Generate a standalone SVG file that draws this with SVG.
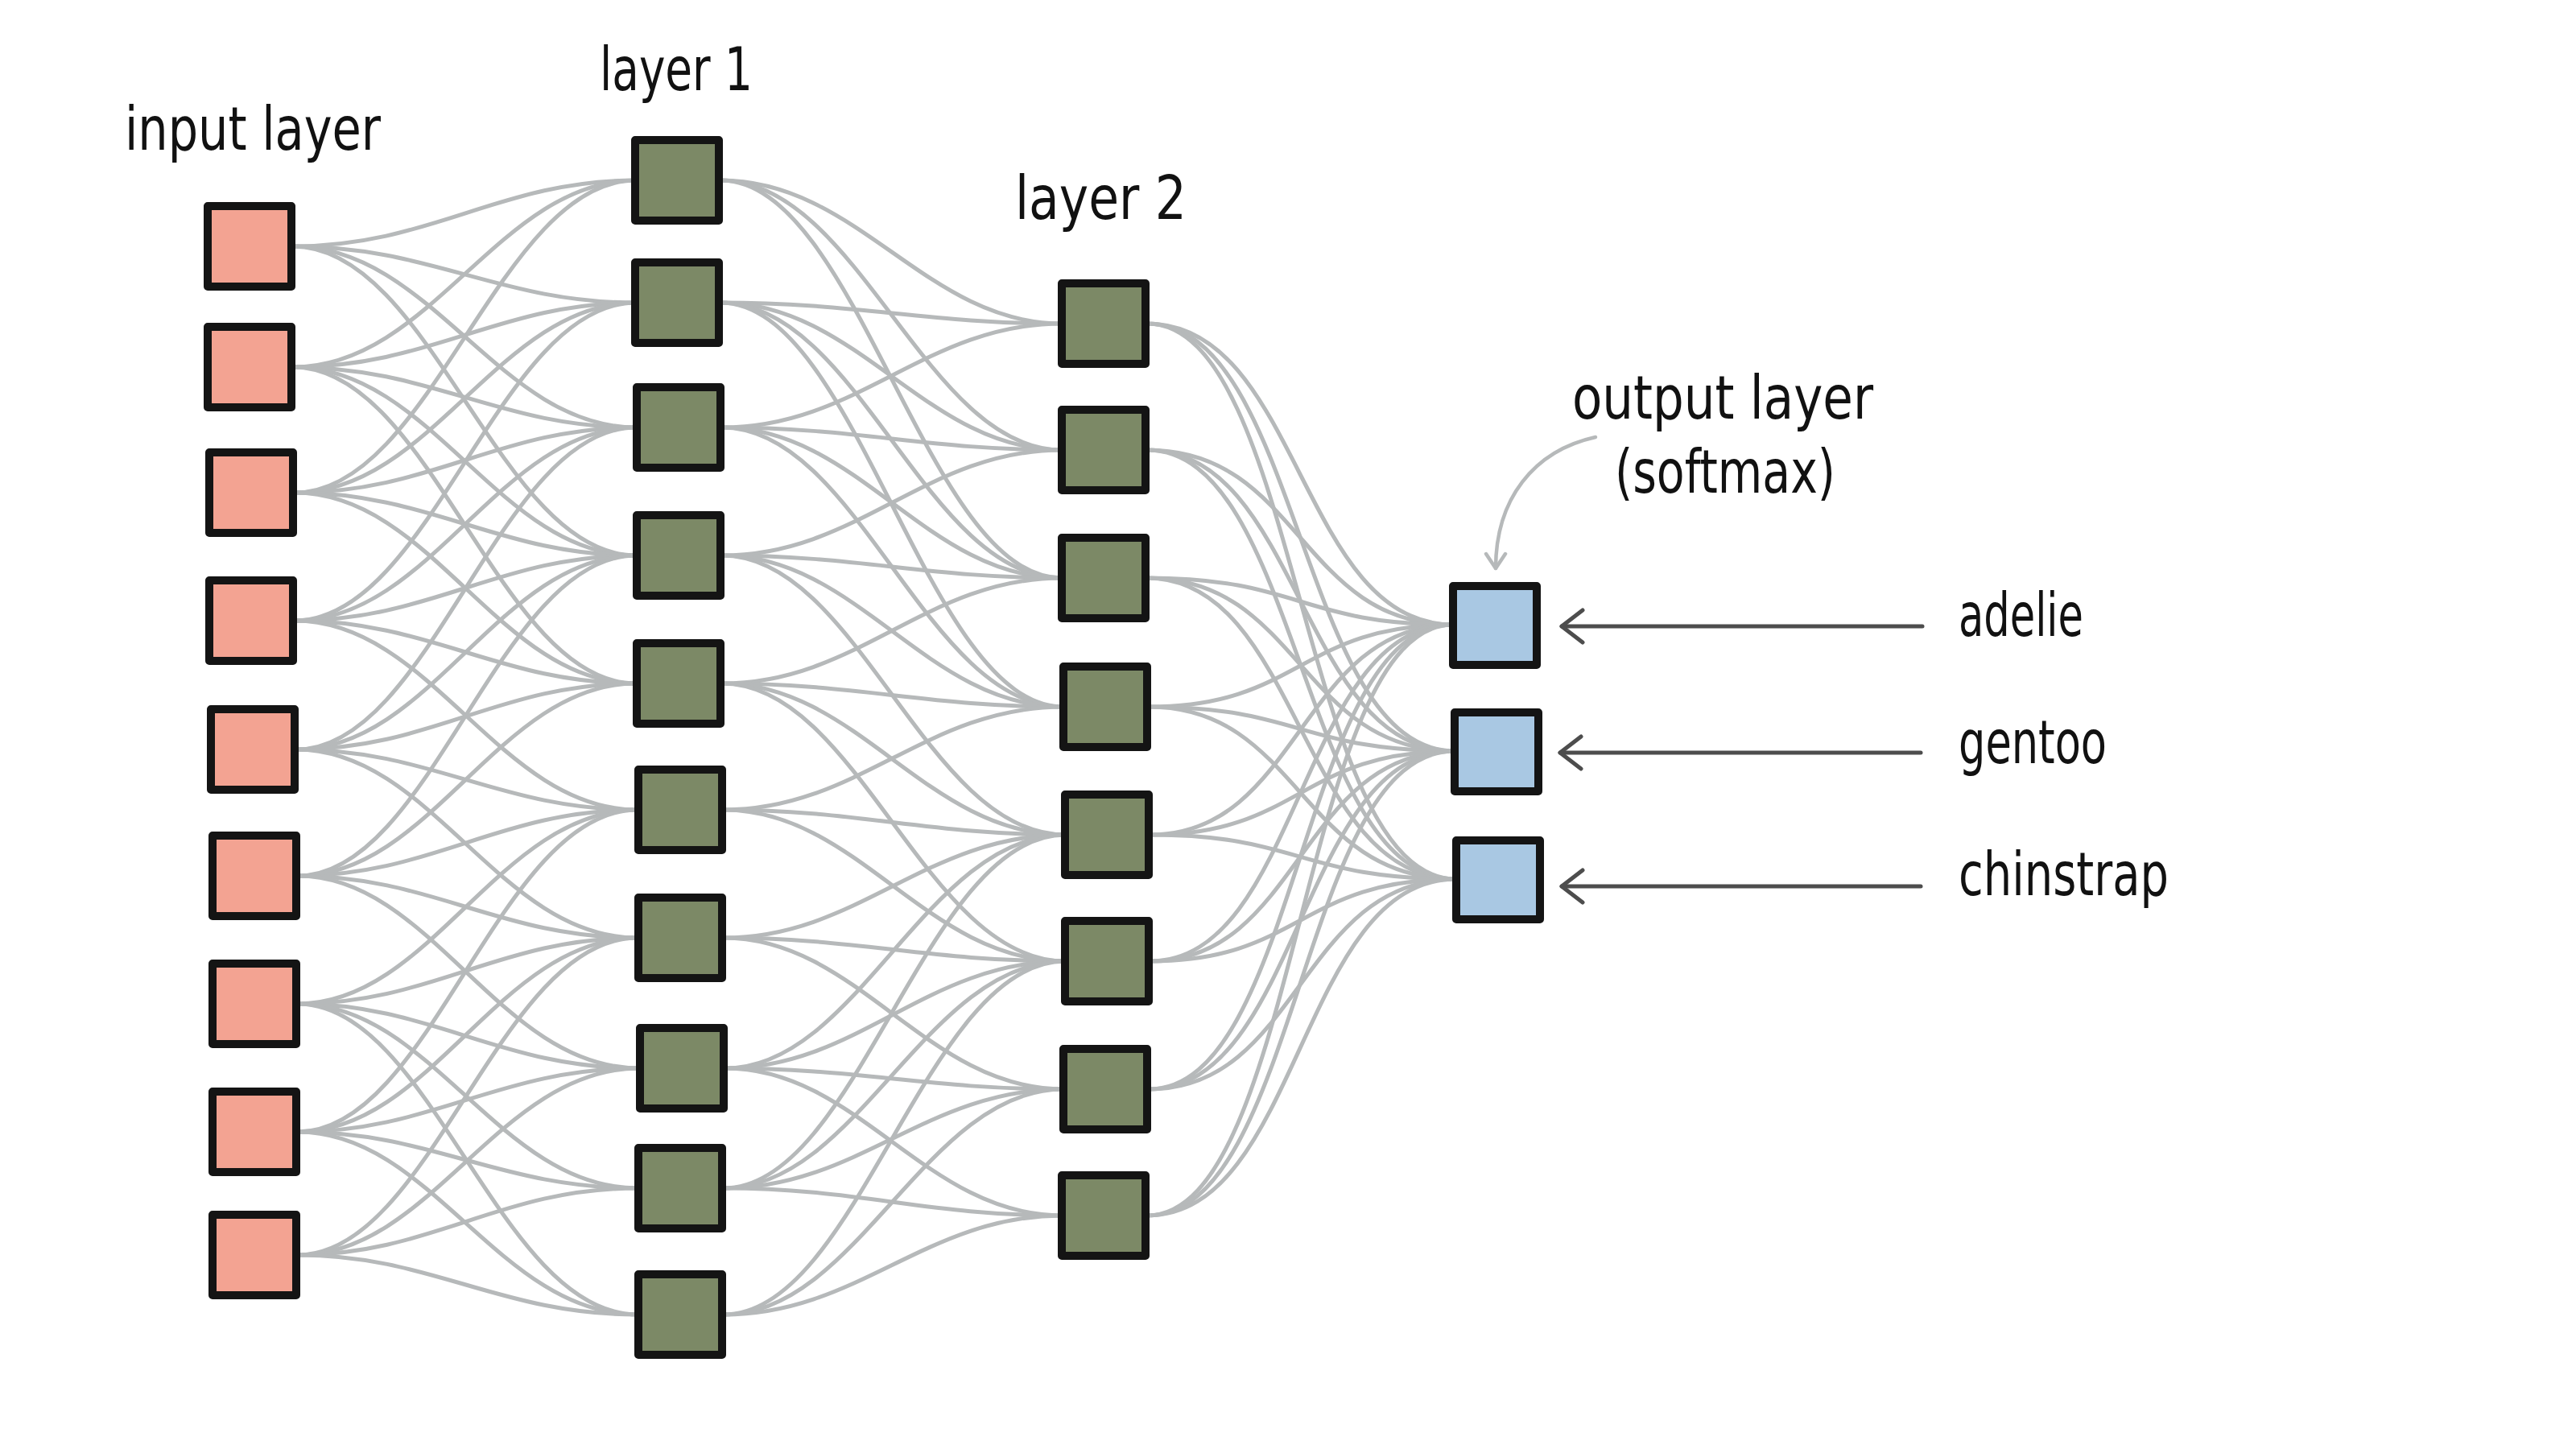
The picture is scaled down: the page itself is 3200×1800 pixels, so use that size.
<svg xmlns="http://www.w3.org/2000/svg" width="3200" height="1800" viewBox="0 0 3200 1800">
<defs>
<style>
.bg{fill:#ffffff}
.node{stroke:#141414;stroke-width:10;stroke-linejoin:round}
.in{fill:#f3a392}
.hid{fill:#7c8966}
.out{fill:#a9c8e3}
.edge{fill:none;stroke:#b6b9ba;stroke-width:5;stroke-linecap:round}
.lbl{font-family:"Liberation Sans Narrow","DejaVu Sans Condensed","Liberation Sans",sans-serif;font-size:74px;fill:#111111}
.arr{fill:none;stroke:#4d4d4d;stroke-width:5;stroke-linecap:round}
.note{fill:none;stroke:#b6b9ba;stroke-width:4.5;stroke-linecap:round}
</style>
<marker id="chev" viewBox="0 0 32 46" refX="29" refY="23" markerWidth="32" markerHeight="46" markerUnits="userSpaceOnUse" orient="auto">
<path d="M3 3 L29 23 L3 43" fill="none" stroke="#4d4d4d" stroke-width="5" stroke-linecap="round" stroke-linejoin="round"/>
</marker>
<marker id="chevs" viewBox="0 0 24 30" refX="21" refY="15" markerWidth="24" markerHeight="30" markerUnits="userSpaceOnUse" orient="auto">
<path d="M3 3 L21 15 L3 27" fill="none" stroke="#b6b9ba" stroke-width="4.5" stroke-linecap="round" stroke-linejoin="round"/>
</marker>
</defs>
<rect class="bg" x="0" y="0" width="3200" height="1800"/>

<g id="connectors">
<!-- input -> layer 1 -->
<path class="edge" d="M364 306C536 306 620 224 790 224"/>
<path class="edge" d="M364 306C536 306 620 376 790 376"/>
<path class="edge" d="M364 306C536 306 620 531 790 531"/>
<path class="edge" d="M364 306C536 306 620 690 790 690"/>
<path class="edge" d="M364 456C536 456 620 224 790 224"/>
<path class="edge" d="M364 456C536 456 620 376 790 376"/>
<path class="edge" d="M364 456C536 456 620 531 790 531"/>
<path class="edge" d="M364 456C536 456 620 690 790 690"/>
<path class="edge" d="M364 456C536 456 620 849 790 849"/>
<path class="edge" d="M366 612C536 612 620 224 790 224"/>
<path class="edge" d="M366 612C536 612 620 376 790 376"/>
<path class="edge" d="M366 612C536 612 620 531 790 531"/>
<path class="edge" d="M366 612C536 612 620 690 790 690"/>
<path class="edge" d="M366 612C536 612 620 849 790 849"/>
<path class="edge" d="M366 771C536 771 620 376 790 376"/>
<path class="edge" d="M366 771C536 771 620 531 790 531"/>
<path class="edge" d="M366 771C536 771 620 690 790 690"/>
<path class="edge" d="M366 771C536 771 620 849 790 849"/>
<path class="edge" d="M366 771C536 771 620 1006 792 1006"/>
<path class="edge" d="M368 931C536 931 620 531 790 531"/>
<path class="edge" d="M368 931C536 931 620 690 790 690"/>
<path class="edge" d="M368 931C536 931 620 849 790 849"/>
<path class="edge" d="M368 931C536 931 620 1006 792 1006"/>
<path class="edge" d="M368 931C536 931 620 1165 792 1165"/>
<path class="edge" d="M370 1088C536 1088 620 690 790 690"/>
<path class="edge" d="M370 1088C536 1088 620 849 790 849"/>
<path class="edge" d="M370 1088C536 1088 620 1006 792 1006"/>
<path class="edge" d="M370 1088C536 1088 620 1165 792 1165"/>
<path class="edge" d="M370 1088C536 1088 620 1327 794 1327"/>
<path class="edge" d="M370 1247C536 1247 620 1006 792 1006"/>
<path class="edge" d="M370 1247C536 1247 620 1165 792 1165"/>
<path class="edge" d="M370 1247C536 1247 620 1327 794 1327"/>
<path class="edge" d="M370 1247C536 1247 620 1476 792 1476"/>
<path class="edge" d="M370 1247C536 1247 620 1633 792 1633"/>
<path class="edge" d="M370 1406C536 1406 620 1006 792 1006"/>
<path class="edge" d="M370 1406C536 1406 620 1165 792 1165"/>
<path class="edge" d="M370 1406C536 1406 620 1327 794 1327"/>
<path class="edge" d="M370 1406C536 1406 620 1476 792 1476"/>
<path class="edge" d="M370 1406C536 1406 620 1633 792 1633"/>
<path class="edge" d="M370 1559C536 1559 620 1165 792 1165"/>
<path class="edge" d="M370 1559C536 1559 620 1327 794 1327"/>
<path class="edge" d="M370 1559C536 1559 620 1476 792 1476"/>
<path class="edge" d="M370 1559C536 1559 620 1633 792 1633"/>
<!-- layer 1 -> layer 2 -->
<path class="edge" d="M895 224C1066 224 1150 402 1319 402"/>
<path class="edge" d="M895 224C1066 224 1150 559 1319 559"/>
<path class="edge" d="M895 224C1066 224 1150 718 1319 718"/>
<path class="edge" d="M895 376C1066 376 1150 402 1319 402"/>
<path class="edge" d="M895 376C1066 376 1150 559 1319 559"/>
<path class="edge" d="M895 376C1066 376 1150 718 1319 718"/>
<path class="edge" d="M895 376C1066 376 1150 878 1321 878"/>
<path class="edge" d="M897 531C1066 531 1150 402 1319 402"/>
<path class="edge" d="M897 531C1066 531 1150 559 1319 559"/>
<path class="edge" d="M897 531C1066 531 1150 718 1319 718"/>
<path class="edge" d="M897 531C1066 531 1150 878 1321 878"/>
<path class="edge" d="M897 690C1066 690 1150 559 1319 559"/>
<path class="edge" d="M897 690C1066 690 1150 718 1319 718"/>
<path class="edge" d="M897 690C1066 690 1150 878 1321 878"/>
<path class="edge" d="M897 690C1066 690 1150 1037 1323 1037"/>
<path class="edge" d="M897 849C1066 849 1150 718 1319 718"/>
<path class="edge" d="M897 849C1066 849 1150 878 1321 878"/>
<path class="edge" d="M897 849C1066 849 1150 1037 1323 1037"/>
<path class="edge" d="M897 849C1066 849 1150 1194 1323 1194"/>
<path class="edge" d="M899 1006C1066 1006 1150 878 1321 878"/>
<path class="edge" d="M899 1006C1066 1006 1150 1037 1323 1037"/>
<path class="edge" d="M899 1006C1066 1006 1150 1194 1323 1194"/>
<path class="edge" d="M899 1165C1066 1165 1150 1037 1323 1037"/>
<path class="edge" d="M899 1165C1066 1165 1150 1194 1323 1194"/>
<path class="edge" d="M899 1165C1066 1165 1150 1353 1321 1353"/>
<path class="edge" d="M901 1327C1066 1327 1150 1037 1323 1037"/>
<path class="edge" d="M901 1327C1066 1327 1150 1194 1323 1194"/>
<path class="edge" d="M901 1327C1066 1327 1150 1353 1321 1353"/>
<path class="edge" d="M901 1327C1066 1327 1150 1510 1319 1510"/>
<path class="edge" d="M899 1476C1066 1476 1150 1037 1323 1037"/>
<path class="edge" d="M899 1476C1066 1476 1150 1194 1323 1194"/>
<path class="edge" d="M899 1476C1066 1476 1150 1353 1321 1353"/>
<path class="edge" d="M899 1476C1066 1476 1150 1510 1319 1510"/>
<path class="edge" d="M899 1633C1066 1633 1150 1194 1323 1194"/>
<path class="edge" d="M899 1633C1066 1633 1150 1353 1321 1353"/>
<path class="edge" d="M899 1633C1066 1633 1150 1510 1319 1510"/>
<!-- layer 2 -> output -->
<path class="edge" d="M1425 402C1615 402 1615 776 1805 776"/>
<path class="edge" d="M1425 402C1615 402 1615 933 1807 933"/>
<path class="edge" d="M1425 402C1615 402 1615 1092 1809 1092"/>
<path class="edge" d="M1425 559C1615 559 1615 776 1805 776"/>
<path class="edge" d="M1425 559C1615 559 1615 933 1807 933"/>
<path class="edge" d="M1425 559C1615 559 1615 1092 1809 1092"/>
<path class="edge" d="M1425 718C1615 718 1615 776 1805 776"/>
<path class="edge" d="M1425 718C1615 718 1615 933 1807 933"/>
<path class="edge" d="M1425 718C1615 718 1615 1092 1809 1092"/>
<path class="edge" d="M1427 878C1615 878 1615 776 1805 776"/>
<path class="edge" d="M1427 878C1615 878 1615 933 1807 933"/>
<path class="edge" d="M1427 878C1615 878 1615 1092 1809 1092"/>
<path class="edge" d="M1429 1037C1615 1037 1615 776 1805 776"/>
<path class="edge" d="M1429 1037C1615 1037 1615 933 1807 933"/>
<path class="edge" d="M1429 1037C1615 1037 1615 1092 1809 1092"/>
<path class="edge" d="M1429 1194C1615 1194 1615 776 1805 776"/>
<path class="edge" d="M1429 1194C1615 1194 1615 933 1807 933"/>
<path class="edge" d="M1429 1194C1615 1194 1615 1092 1809 1092"/>
<path class="edge" d="M1427 1353C1615 1353 1615 776 1805 776"/>
<path class="edge" d="M1427 1353C1615 1353 1615 933 1807 933"/>
<path class="edge" d="M1427 1353C1615 1353 1615 1092 1809 1092"/>
<path class="edge" d="M1425 1510C1615 1510 1615 776 1805 776"/>
<path class="edge" d="M1425 1510C1615 1510 1615 933 1807 933"/>
<path class="edge" d="M1425 1510C1615 1510 1615 1092 1809 1092"/>
<!-- class arrows -->
<path class="arr" d="M2388 778 L1940 778" marker-end="url(#chev)"/>
<path class="arr" d="M2386 935 L1938 935" marker-end="url(#chev)"/>
<path class="arr" d="M2386 1101 L1940 1101" marker-end="url(#chev)"/>
<!-- annotation arrow -->
<path class="note" d="M1982 543 C1905 560 1858 620 1858 706" marker-end="url(#chevs)"/>
</g>

<g id="input-layer">
<rect id="in0" class="node in" x="258" y="256" width="104" height="100"/>
<rect id="in1" class="node in" x="258" y="406" width="104" height="100"/>
<rect id="in2" class="node in" x="260" y="562" width="104" height="100"/>
<rect id="in3" class="node in" x="260" y="721" width="104" height="100"/>
<rect id="in4" class="node in" x="262" y="881" width="104" height="100"/>
<rect id="in5" class="node in" x="264" y="1038" width="104" height="100"/>
<rect id="in6" class="node in" x="264" y="1197" width="104" height="100"/>
<rect id="in7" class="node in" x="264" y="1356" width="104" height="100"/>
<rect id="in8" class="node in" x="264" y="1509" width="104" height="100"/>
</g>

<g id="layer-1">
<rect id="h1_0" class="node hid" x="789" y="174" width="104" height="100"/>
<rect id="h1_1" class="node hid" x="789" y="326" width="104" height="100"/>
<rect id="h1_2" class="node hid" x="791" y="481" width="104" height="100"/>
<rect id="h1_3" class="node hid" x="791" y="640" width="104" height="100"/>
<rect id="h1_4" class="node hid" x="791" y="799" width="104" height="100"/>
<rect id="h1_5" class="node hid" x="793" y="956" width="104" height="100"/>
<rect id="h1_6" class="node hid" x="793" y="1115" width="104" height="100"/>
<rect id="h1_7" class="node hid" x="795" y="1277" width="104" height="100"/>
<rect id="h1_8" class="node hid" x="793" y="1426" width="104" height="100"/>
<rect id="h1_9" class="node hid" x="793" y="1583" width="104" height="100"/>
</g>

<g id="layer-2">
<rect id="h2_0" class="node hid" x="1319" y="352" width="104" height="100"/>
<rect id="h2_1" class="node hid" x="1319" y="509" width="104" height="100"/>
<rect id="h2_2" class="node hid" x="1319" y="668" width="104" height="100"/>
<rect id="h2_3" class="node hid" x="1321" y="828" width="104" height="100"/>
<rect id="h2_4" class="node hid" x="1323" y="987" width="104" height="100"/>
<rect id="h2_5" class="node hid" x="1323" y="1144" width="104" height="100"/>
<rect id="h2_6" class="node hid" x="1321" y="1303" width="104" height="100"/>
<rect id="h2_7" class="node hid" x="1319" y="1460" width="104" height="100"/>
</g>

<g id="output-layer">
<rect id="out0" class="node out" x="1805" y="728" width="104" height="98"/>
<rect id="out1" class="node out" x="1807" y="885" width="104" height="98"/>
<rect id="out2" class="node out" x="1809" y="1044" width="104" height="98"/>
</g>

<g id="labels">
<text class="lbl" x="155" y="186" textLength="318" lengthAdjust="spacingAndGlyphs">input layer</text>
<text class="lbl" x="745" y="112" textLength="190" lengthAdjust="spacingAndGlyphs">layer 1</text>
<text class="lbl" x="1261" y="272" textLength="213" lengthAdjust="spacingAndGlyphs">layer 2</text>
<text class="lbl" x="1953" y="520" textLength="374" lengthAdjust="spacingAndGlyphs">output layer</text>
<text class="lbl" x="2006" y="612" textLength="274" lengthAdjust="spacingAndGlyphs">(softmax)</text>
<text class="lbl" x="2433" y="790" textLength="155" lengthAdjust="spacingAndGlyphs">adelie</text>
<text class="lbl" x="2433" y="948" textLength="184" lengthAdjust="spacingAndGlyphs">gentoo</text>
<text class="lbl" x="2433" y="1112" textLength="261" lengthAdjust="spacingAndGlyphs">chinstrap</text>
</g>
</svg>
